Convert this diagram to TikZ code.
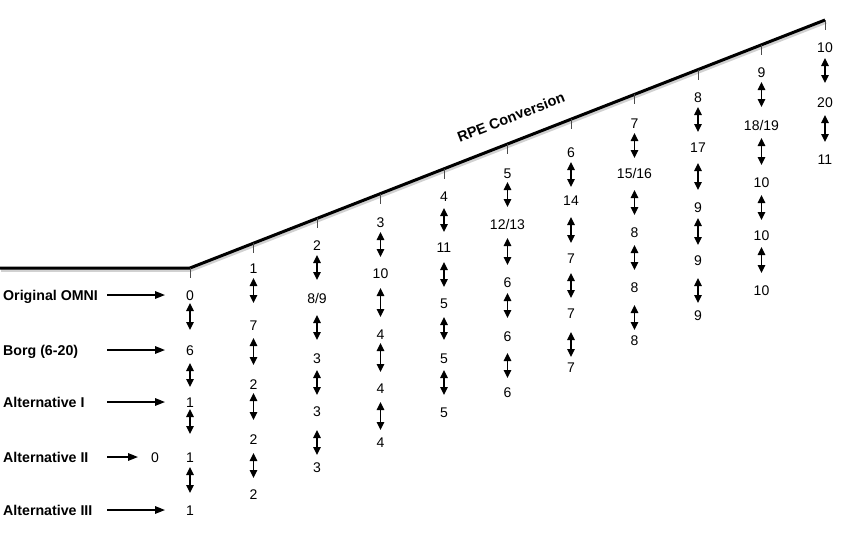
\documentclass[tikz,border=0pt]{standalone}
\usepackage{fontspec}
\setmainfont{Liberation Sans}
\usetikzlibrary{arrows.meta,calc}
\begin{document}
\begin{tikzpicture}[x=1pt,y=-1pt,
  num/.style={inner sep=0pt,text height=10pt,text depth=0pt,font=\fontsize{14}{16}\selectfont},
  lab/.style={inner sep=0pt,text height=10pt,text depth=0pt,anchor=west,font=\fontsize{14.2}{16}\selectfont\bfseries},
  dbl/.style={{Triangle[length=8pt,width=7.5pt]}-{Triangle[length=8pt,width=7.5pt]},line width=1.4pt},
  harrow/.style={-{Triangle[length=10pt,width=7.5pt]},line width=1.6pt},
  slope/.style={line width=3pt,line join=round},
  shade/.style={line width=3.5pt,line join=round,black!18},
  tickmark/.style={line width=0.9pt,black!70}]
\useasboundingbox[fill=white] (0,0) rectangle (850,533);
% main line
\coordinate (A) at (0,268);
\coordinate (B) at (190,268);
\coordinate (C) at (825,20);
\draw[shade] ([shift={(1,2)}]A) -- ([shift={(1,2)}]B) -- ([shift={(1,2)}]C);
\draw[slope] (A) -- (B) -- (C);
\foreach \k in {0,...,10}
  \draw[tickmark] ($(B)!\k/10!(C)$) -- ++(0,10);
\node[font=\fontsize{14.5}{16}\selectfont\bfseries,rotate=21.3,inner sep=0pt] (rpe) at (511,117) {RPE Conversion};
% values
\foreach \k/\i/\y/\v in {
  0/0/295/0, 0/1/350/6, 0/2/402/1, 0/3/457/1, 0/4/510/1,
  1/0/268/1, 1/1/325/7, 1/2/384/2, 1/3/439/2, 1/4/494/2,
  2/0/245/2, 2/1/298/{8/9}, 2/2/358/3, 2/3/411/3, 2/4/467/3,
  3/0/222/3, 3/1/273/10, 3/2/334/4, 3/3/388/4, 3/4/442/4,
  4/0/196/4, 4/1/247/11, 4/2/303/5, 4/3/358/5, 4/4/412/5,
  5/0/173/5, 5/1/224/{12/13}, 5/2/282/6, 5/3/336/6, 5/4/392/6,
  6/0/152/6, 6/1/200/14, 6/2/258/7, 6/3/313/7, 6/4/367/7,
  7/0/123/7, 7/1/173/{15/16}, 7/2/232/8, 7/3/287/8, 7/4/340/8,
  8/0/97/8, 8/1/147/17, 8/2/207/9, 8/3/260/9, 8/4/315/9,
  9/0/72/9, 9/1/125/{18/19}, 9/2/182/10, 9/3/235/10, 9/4/290/10,
  10/0/47/10, 10/1/102/20, 10/2/159/11}
  \node[num] (c\k-\i) at ({190+63.5*\k},\y) {\v};
% double arrows
\foreach \k/\i/\s/\e [evaluate=\i as \j using int(\i+1)] in {
  0/0/8/20, 0/1/13/15, 0/2/7/23, 0/3/10/17,
  1/0/10/22, 1/1/13/19, 1/2/9/19, 1/3/14/16,
  2/0/10/18, 2/1/17/18, 2/2/12/16, 2/3/19/12,
  3/0/10/16, 3/1/15/17, 3/2/9/16, 3/3/14/12,
  4/0/12/15, 4/1/15/16, 4/2/14/18, 4/3/12/17,
  5/0/9/17, 5/1/14/17, 5/2/11/18, 5/3/17/14,
  6/0/10/13, 6/1/17/15, 6/2/15/15, 6/3/19/10,
  7/0/10/15, 7/1/17/17, 7/2/13/17, 7/3/18/10,
  8/0/10/15, 8/1/16/17, 8/2/11/15, 8/3/18/12,
  9/0/10/18, 9/1/13/17, 9/2/13/15, 9/3/12/17,
  10/0/11/19, 10/1/13/17}
  \draw[dbl,shorten <=\s,shorten >=\e] (c\k-\i.center) -- (c\k-\j.center);
% left labels
\node[lab] (l0) at (3,295) {Original OMNI};
\node[lab] (l1) at (3,350) {Borg (6-20)};
\node[lab] (l2) at (3,402) {Alternative I};
\node[lab] (l3) at (3,457) {Alternative II};
\node[lab] (l4) at (3,510) {Alternative III};
\node[num] (z) at (155,457) {0};
\coordinate (ax) at (107,0);
\draw[harrow,shorten >=25] (l0 -| ax) -- (c0-0.center);
\draw[harrow,shorten >=25] (l1 -| ax) -- (c0-1.center);
\draw[harrow,shorten >=25] (l2 -| ax) -- (c0-2.center);
\draw[harrow,shorten >=17] (l3 -| ax) -- (z.center);
\draw[harrow,shorten >=25] (l4 -| ax) -- (c0-4.center);
\end{tikzpicture}
\end{document}
